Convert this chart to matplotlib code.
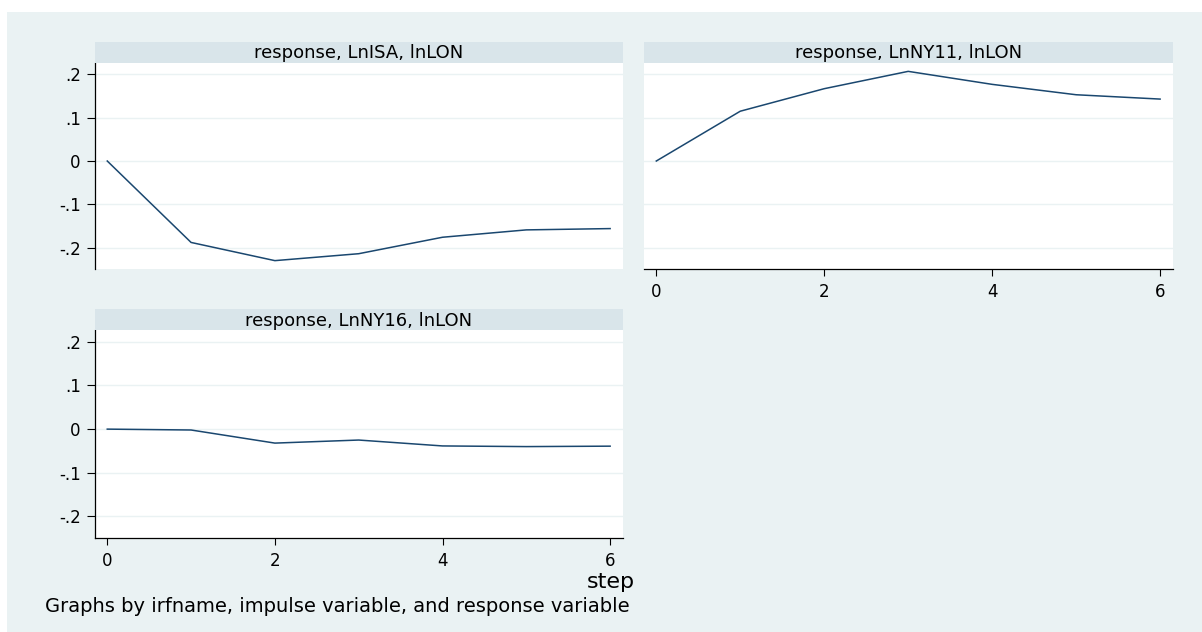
# -*- coding:utf-8 -*-
'''
irf graph: three panels, response of LnISA / LnNY11 / LnNY16 to lnLON
'''
import matplotlib.pyplot as plt
from matplotlib.patches import Rectangle

plt.rcParams['font.family'] = ['DejaVu Sans']

# data
steps = [0, 1, 2, 3, 4, 5, 6]
lnisa = [0, -0.188, -0.230, -0.214, -0.176, -0.159, -0.156]
lnny11 = [0, 0.115, 0.167, 0.207, 0.177, 0.153, 0.143]
lnny16 = [0, -0.002, -0.032, -0.025, -0.0385, -0.040, -0.039]

titles = ['response, LnISA, lnLON', 'response, LnNY11, lnLON', 'response, LnNY16, lnLON']
y_ticks = [-0.2, -0.1, 0, 0.1, 0.2]
y_ticklabels = ['-.2', '-.1', '0', '.1', '.2']
x_ticks = [0, 2, 4, 6]

bg = '#eaf2f3'
strip = '#d9e5ea'
navy = '#1a476f'
W, H = 1202, 632

fig = plt.figure(figsize=(W / 100, H / 100), dpi=100)
fig.patch.set_facecolor('white')
# light graph region, white margin on top and left
fig.add_artist(Rectangle((7 / W, 0), 1 - 7 / W, 1 - 12 / H, transform=fig.transFigure,
                         facecolor=bg, edgecolor='none', zorder=-5))

# panel boxes in pixels: left, right, top(plot), bottom(plot), top(strip)
boxes = [(94.7, 622.7, 62.7, 269.3, 41.7),
         (643.7, 1172.7, 62.7, 269.3, 41.7),
         (94.7, 622.7, 330.0, 538.3, 309.3)]
series = [lnisa, lnny11, lnny16]
show_y = [True, False, True]
show_x = [False, True, True]

for i in range(3):
    l, r, t, b, st = boxes[i]
    ax = fig.add_axes([l / W, 1 - b / H, (r - l) / W, (b - t) / H])
    ax.set_facecolor('white')
    ax.plot(steps, series[i], color=navy, linewidth=1.1, zorder=3)
    ax.set_xlim(-0.15, 6.15)
    ax.set_ylim(-0.25, 0.227)
    ax.set_yticks(y_ticks)
    ax.set_yticklabels(y_ticklabels)
    ax.set_xticks(x_ticks)
    ax.yaxis.grid(True, color=bg, linewidth=1.0)
    ax.set_axisbelow(True)
    for s in ['top', 'right']:
        ax.spines[s].set_visible(False)
    ax.spines['left'].set_visible(show_y[i])
    ax.spines['bottom'].set_visible(show_x[i])
    for s in ['left', 'bottom']:
        ax.spines[s].set_color('black')
        ax.spines[s].set_linewidth(0.9)
    ax.tick_params(axis='y', left=show_y[i], labelleft=show_y[i], length=6, width=0.8,
                   pad=4, labelsize=12, colors='black')
    ax.tick_params(axis='x', bottom=show_x[i], labelbottom=show_x[i], length=5, width=0.8,
                   pad=5, labelsize=12, colors='black')

    # strip with the panel title
    hx = fig.add_axes([l / W, 1 - t / H, (r - l) / W, (t - st) / H])
    hx.set_facecolor(strip)
    hx.set_xticks([])
    hx.set_yticks([])
    for s in hx.spines.values():
        s.set_visible(False)
    hx.text(0.5, 0.45, titles[i], ha='center', va='center', fontsize=13, transform=hx.transAxes)

fig.text(611 / W, 1 - 582 / H, 'step', ha='center', va='center', fontsize=16)
fig.text(45 / W, 1 - 606 / H, 'Graphs by irfname, impulse variable, and response variable',
         ha='left', va='center', fontsize=14)

plt.savefig('out.png', dpi=100, facecolor=fig.get_facecolor())
